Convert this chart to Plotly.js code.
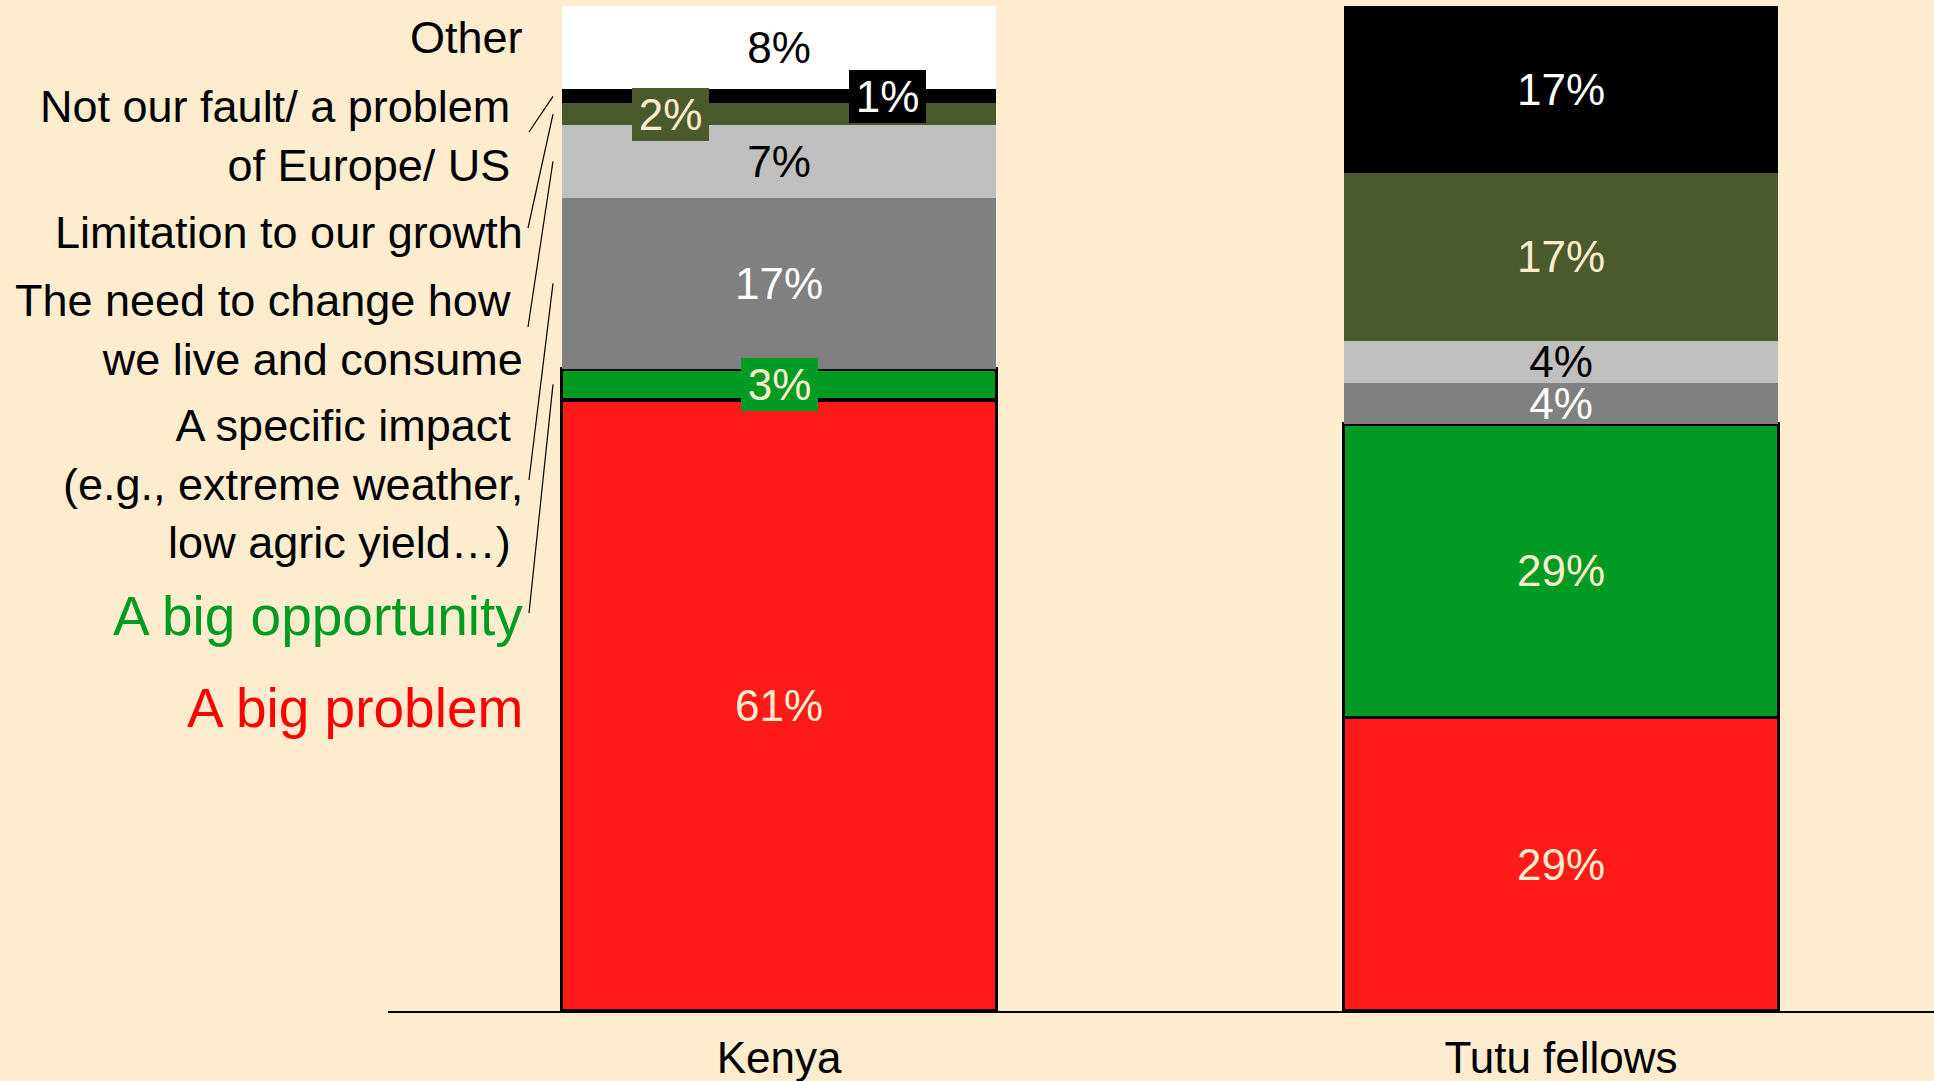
<!DOCTYPE html>
<html>
<head>
<meta charset="utf-8">
<script src="https://cdn.plot.ly/plotly-3.0.1.min.js"></script>
<style>
  html, body { margin: 0; padding: 0; background: #FDEDCE; }
  #chart { width: 1934px; height: 1081px; }
</style>
</head>
<body>
<div id="chart"></div>
<script>
// ---- Data ----
const categories = ['Kenya', 'Tutu fellows'];

// series, bottom of the stack first
const seriesNames = [
  'A big problem',
  'A big opportunity',
  'A specific impact (e.g., extreme weather, low agric yield…)',
  'The need to change how we live and consume',
  'Limitation to our growth',
  'Not our fault/ a problem of Europe/ US',
  'Other'
];
const bigProblem      = [60.8, 29.2];
const bigOpportunity  = [3.1, 29.2];
const specificImpact  = [17.0, 4.1];
const needToChange    = [7.3, 4.2];
const limitation      = [2.1, 16.7];
const notOurFault     = [1.4, 16.6];
const other           = [8.3, 0];

// label lines as written on the slide (trailing space kept)
const labelLines = [
  ['A big problem'],
  ['A big opportunity'],
  ['A specific impact\u00a0', '(e.g., extreme weather,', 'low agric yield…)\u00a0'],
  ['The need to change how\u00a0', 'we live and consume'],
  ['Limitation to our growth'],
  ['Not our fault/ a problem\u00a0', 'of Europe/ US\u00a0'],
  ['Other']
];

// ---- Styling ----
const BG = '#FDEDCE';
const FONT = '"Liberation Sans", Arial, sans-serif';
const fillColors = ['#FF1A1A', '#009B22', '#808080', '#BFBFBF', '#4B5A2D', '#000000', '#FFFFFF'];
const textColors = [BG, BG, '#FFFFFF', '#000000', BG, '#FFFFFF', '#000000'];
const outlined   = [true, true, false, false, false, false, false];
const labelColors = ['#FF0000', '#009B22', '#000', '#000', '#000', '#000', '#000'];
const labelSizes  = [55, 55, 45, 45, 45, 45, 45];

const values = [bigProblem, bigOpportunity, specificImpact, needToChange, limitation, notOurFault, other];

// plot geometry (pixels)
const L = 388, T = 6, W = 1546, H = 1005;
const paperX = px => (px - L) / W;
const dataY = py => (T + H - py) / H * 100;

// callouts in Kenya bar: series index -> box style
const callouts = [
  { s: 5, cat: 0, dx: 108, bg: '#000000', color: '#FFFFFF' },
  { s: 4, cat: 0, dx: -109, bg: '#4B5A2D', color: BG },
  { s: 1, cat: 0, dx: 0, bg: '#009B22', color: BG }
];
const isCallout = (s, c) => callouts.some(o => o.s === s && o.cat === c);

// cumulative centers
function segCenter(s, c) {
  let base = 0;
  for (let i = 0; i < s; i++) base += values[i][c];
  return base + values[s][c] / 2;
}

const traces = values.map((vals, s) => ({
  type: 'bar',
  name: seriesNames[s],
  x: categories,
  y: vals,
  width: 0.556,
  marker: {
    color: fillColors[s],
    line: { color: '#000', width: outlined[s] ? 3.5 : 0 }
  },
  text: vals.map((v, c) => (v > 0 && !isCallout(s, c)) ? Math.round(v) + '%' : ''),
  textposition: 'inside',
  insidetextanchor: 'middle',
  textangle: 0,
  constraintext: 'none',
  textfont: { family: FONT, size: 44, color: textColors[s] },
  hoverinfo: 'skip',
  showlegend: false
}));

// category label annotations on the left
const labelCenters = [708, 616, 484, 330, 232, 135.5, 37]; // px, layout only
const annotations = labelLines.map((lines, s) => ({
  xref: 'paper', yref: 'y',
  x: paperX(525), y: dataY(labelCenters[s]),
  xanchor: 'right', yanchor: 'middle', align: 'right',
  text: lines.join('<br>'),
  showarrow: false,
  font: { family: FONT, size: labelSizes[s], color: labelColors[s] }
}));

callouts.forEach(o => {
  const v = values[o.s][o.cat];
  annotations.push({
    xref: 'x', yref: 'y',
    x: categories[o.cat], y: segCenter(o.s, o.cat),
    xshift: o.dx,
    xanchor: 'center', yanchor: 'middle',
    text: Math.round(v) + '%',
    showarrow: false,
    bgcolor: o.bg, borderpad: 0, borderwidth: 0,
    width: 77, height: 53,
    font: { family: FONT, size: 44, color: o.color }
  });
});

// leader lines from labels to the Kenya bar
const leaders = [
  { s: 5, end: [529, 132] },
  { s: 4, end: [528, 228] },
  { s: 3, end: [528, 327] },
  { s: 2, end: [529, 480] },
  { s: 1, end: [529, 613] }
];
const shapes = leaders.map(o => ({
  type: 'line', xref: 'paper', yref: 'y',
  x0: paperX(553), y0: segCenter(o.s, 0),
  x1: paperX(o.end[0]), y1: dataY(o.end[1]),
  line: { color: '#000', width: 1.2 }
}));

const layout = {
  width: 1934, height: 1081,
  margin: { l: L, r: 1934 - L - W, t: T, b: 1081 - T - H, pad: 0 },
  paper_bgcolor: BG, plot_bgcolor: BG,
  barmode: 'stack',
  bargap: 0,
  showlegend: false,
  xaxis: {
    type: 'category',
    range: [-0.5, -0.5 + W / 782],
    showline: true, linecolor: '#000', linewidth: 2,
    showgrid: false, zeroline: false, ticks: '',
    ticklabelstandoff: 7,
    tickfont: { family: FONT, size: 44, color: '#000' },
    fixedrange: true
  },
  yaxis: {
    range: [0, 100],
    visible: false, showgrid: false, zeroline: false,
    fixedrange: true
  },
  annotations: annotations,
  shapes: shapes,
  font: { family: FONT }
};

Plotly.newPlot('chart', traces, layout, { displayModeBar: false, staticPlot: true });
</script>
</body>
</html>
